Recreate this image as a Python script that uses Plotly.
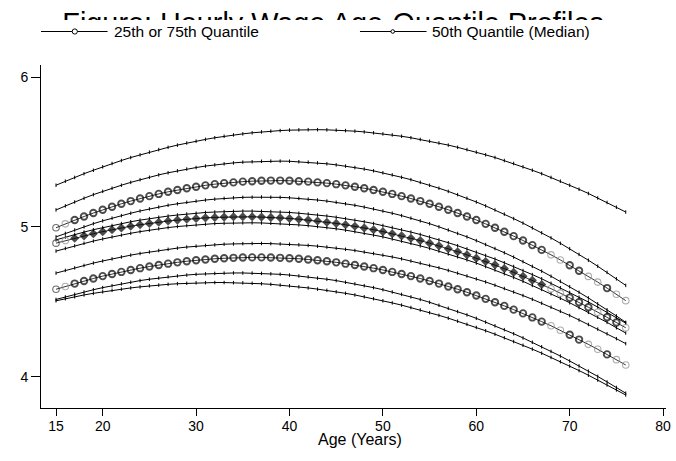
import plotly.graph_objects as go

# Age grid (years)
ages = list(range(15, 77))

# Quantile profiles of log hourly wage
q75 = [4.995, 5.021, 5.047, 5.070, 5.093, 5.115, 5.135, 5.155, 5.173, 5.190, 5.206, 5.221, 5.235, 5.247, 5.259, 5.269,
       5.278, 5.286, 5.293, 5.298, 5.303, 5.306, 5.309, 5.310, 5.310, 5.309, 5.306, 5.303, 5.298, 5.293, 5.286, 5.278,
       5.269, 5.259, 5.247, 5.235, 5.221, 5.206, 5.190, 5.173, 5.155, 5.135, 5.115, 5.093, 5.070, 5.047, 5.021, 4.995,
       4.968, 4.939, 4.910, 4.879, 4.847, 4.814, 4.780, 4.744, 4.708, 4.670, 4.632, 4.592, 4.551, 4.508]
q50 = [4.892, 4.909, 4.925, 4.941, 4.955, 4.969, 4.982, 4.994, 5.005, 5.015, 5.024, 5.032, 5.040, 5.046, 5.052, 5.057,
       5.061, 5.064, 5.066, 5.068, 5.068, 5.068, 5.066, 5.064, 5.061, 5.057, 5.052, 5.046, 5.040, 5.032, 5.024, 5.015,
       5.005, 4.994, 4.982, 4.969, 4.955, 4.941, 4.925, 4.909, 4.892, 4.874, 4.855, 4.835, 4.814, 4.792, 4.770, 4.747,
       4.722, 4.697, 4.671, 4.644, 4.616, 4.588, 4.558, 4.528, 4.497, 4.464, 4.431, 4.397, 4.362, 4.327]
q25 = [4.584, 4.603, 4.622, 4.639, 4.656, 4.672, 4.686, 4.700, 4.713, 4.725, 4.736, 4.746, 4.755, 4.764, 4.771, 4.778,
       4.783, 4.788, 4.791, 4.794, 4.796, 4.797, 4.797, 4.796, 4.794, 4.791, 4.788, 4.783, 4.778, 4.771, 4.764, 4.755,
       4.746, 4.736, 4.725, 4.713, 4.700, 4.686, 4.672, 4.656, 4.639, 4.622, 4.603, 4.584, 4.564, 4.542, 4.520, 4.497,
       4.473, 4.448, 4.423, 4.396, 4.368, 4.340, 4.310, 4.280, 4.248, 4.216, 4.183, 4.149, 4.114, 4.078]

# Comparison profiles drawn as plain connected lines (top to bottom)
profile_1 = [5.279, 5.306, 5.331, 5.356, 5.379, 5.402, 5.424, 5.444, 5.464, 5.482, 5.500, 5.517, 5.532, 5.547, 5.561,
             5.573, 5.585, 5.596, 5.606, 5.615, 5.622, 5.629, 5.635, 5.640, 5.644, 5.647, 5.649, 5.650, 5.650, 5.649,
             5.647, 5.644, 5.640, 5.635, 5.629, 5.622, 5.615, 5.606, 5.596, 5.585, 5.573, 5.561, 5.547, 5.532, 5.517,
             5.500, 5.482, 5.464, 5.444, 5.424, 5.402, 5.379, 5.356, 5.331, 5.306, 5.279, 5.252, 5.224, 5.194, 5.164,
             5.132, 5.100]
profile_2 = [5.114, 5.141, 5.167, 5.192, 5.216, 5.238, 5.259, 5.279, 5.298, 5.316, 5.332, 5.348, 5.362, 5.375, 5.387,
             5.397, 5.407, 5.415, 5.422, 5.428, 5.433, 5.436, 5.439, 5.440, 5.440, 5.439, 5.436, 5.433, 5.428, 5.422,
             5.415, 5.407, 5.397, 5.387, 5.375, 5.362, 5.348, 5.332, 5.316, 5.298, 5.279, 5.259, 5.238, 5.216, 5.192,
             5.167, 5.141, 5.114, 5.086, 5.056, 5.026, 4.994, 4.961, 4.927, 4.891, 4.855, 4.817, 4.778, 4.738, 4.697,
             4.654, 4.610]
profile_3 = [4.934, 4.957, 4.980, 5.001, 5.022, 5.041, 5.059, 5.076, 5.092, 5.107, 5.121, 5.133, 5.145, 5.155, 5.165,
             5.173, 5.180, 5.186, 5.191, 5.195, 5.198, 5.199, 5.200, 5.199, 5.198, 5.195, 5.191, 5.186, 5.180, 5.173,
             5.165, 5.155, 5.145, 5.133, 5.121, 5.107, 5.092, 5.076, 5.059, 5.041, 5.022, 5.001, 4.980, 4.957, 4.934,
             4.909, 4.883, 4.856, 4.828, 4.799, 4.769, 4.737, 4.705, 4.671, 4.637, 4.601, 4.564, 4.526, 4.487, 4.447,
             4.406, 4.363]
profile_4 = [4.914, 4.933, 4.950, 4.966, 4.982, 4.996, 5.010, 5.023, 5.035, 5.046, 5.056, 5.065, 5.073, 5.080, 5.087,
             5.092, 5.097, 5.100, 5.103, 5.105, 5.106, 5.106, 5.105, 5.103, 5.100, 5.097, 5.092, 5.087, 5.080, 5.073,
             5.065, 5.056, 5.046, 5.035, 5.023, 5.010, 4.996, 4.982, 4.966, 4.950, 4.933, 4.914, 4.895, 4.875, 4.854,
             4.832, 4.810, 4.786, 4.761, 4.736, 4.709, 4.682, 4.654, 4.624, 4.594, 4.563, 4.531, 4.499, 4.465, 4.430,
             4.395, 4.358]
profile_5 = [4.839, 4.857, 4.874, 4.891, 4.906, 4.920, 4.934, 4.946, 4.958, 4.969, 4.979, 4.988, 4.996, 5.003, 5.009,
             5.014, 5.019, 5.023, 5.025, 5.027, 5.028, 5.028, 5.027, 5.025, 5.023, 5.019, 5.014, 5.009, 5.003, 4.996,
             4.988, 4.979, 4.969, 4.958, 4.946, 4.934, 4.920, 4.906, 4.891, 4.874, 4.857, 4.839, 4.820, 4.801, 4.780,
             4.759, 4.736, 4.713, 4.688, 4.663, 4.637, 4.610, 4.583, 4.554, 4.524, 4.494, 4.462, 4.430, 4.397, 4.363,
             4.327, 4.292]
profile_6 = [4.692, 4.710, 4.727, 4.743, 4.759, 4.773, 4.787, 4.800, 4.812, 4.823, 4.833, 4.843, 4.851, 4.859, 4.866,
             4.872, 4.877, 4.881, 4.885, 4.887, 4.889, 4.890, 4.890, 4.889, 4.887, 4.885, 4.881, 4.877, 4.872, 4.866,
             4.859, 4.851, 4.843, 4.833, 4.823, 4.812, 4.800, 4.787, 4.773, 4.759, 4.743, 4.727, 4.710, 4.692, 4.673,
             4.653, 4.633, 4.611, 4.589, 4.566, 4.542, 4.517, 4.491, 4.464, 4.437, 4.409, 4.379, 4.349, 4.318, 4.287,
             4.254, 4.221]
profile_7 = [4.516, 4.533, 4.550, 4.566, 4.581, 4.595, 4.608, 4.620, 4.631, 4.642, 4.651, 4.659, 4.667, 4.673, 4.679,
             4.684, 4.687, 4.690, 4.692, 4.693, 4.693, 4.692, 4.690, 4.687, 4.684, 4.679, 4.673, 4.667, 4.659, 4.651,
             4.642, 4.631, 4.620, 4.608, 4.595, 4.581, 4.566, 4.550, 4.533, 4.516, 4.497, 4.477, 4.457, 4.435, 4.413,
             4.390, 4.365, 4.340, 4.314, 4.287, 4.259, 4.230, 4.200, 4.169, 4.138, 4.105, 4.072, 4.037, 4.002, 3.965,
             3.928, 3.890]
profile_8 = [4.507, 4.521, 4.534, 4.546, 4.557, 4.567, 4.577, 4.585, 4.593, 4.600, 4.607, 4.612, 4.617, 4.621, 4.624,
             4.627, 4.628, 4.629, 4.629, 4.628, 4.627, 4.624, 4.621, 4.617, 4.612, 4.607, 4.600, 4.593, 4.585, 4.577,
             4.567, 4.557, 4.546, 4.534, 4.521, 4.507, 4.493, 4.478, 4.462, 4.446, 4.428, 4.410, 4.391, 4.371, 4.350,
             4.329, 4.307, 4.284, 4.260, 4.235, 4.210, 4.184, 4.157, 4.129, 4.100, 4.071, 4.041, 4.010, 3.978, 3.945,
             3.912, 3.878]

x_ticks = [15, 20, 30, 40, 50, 60, 70, 80]
y_ticks = [4, 5, 6]
title_text = "Figure: Hourly Wage Age-Quantile Profiles"
x_title = "Age (Years)"
legend_names = ["25th or 75th Quantile", "50th Quantile (Median)"]

for s in (q75, q50, q25, profile_1, profile_2, profile_3, profile_4, profile_5, profile_6, profile_7, profile_8):
    if len(s) != len(ages):
        raise ValueError("series length mismatch: %d" % len(s))

# ---- page geometry (pixels) ----
W, H = 676, 461
ML, MR, MT, MB = 41, 6, 5, 53
PW, PH = W - ML - MR, H - MT - MB


def fx(px):
    """page column -> paper x"""
    return (px - ML) / PW


def fy(py):
    """page row -> paper y"""
    return (H - MB - py) / PH


FONT = "Liberation Sans, Arial, Helvetica, sans-serif"
BLACK = "#000000"
GRAY = "#8c8c8c"

fig = go.Figure()

# plain profiles with tiny tick markers at each age
for prof in (profile_1, profile_2, profile_3, profile_4, profile_5, profile_6, profile_7, profile_8):
    fig.add_trace(go.Scatter(
        x=ages, y=prof, mode="lines+markers", showlegend=False, hoverinfo="skip",
        line=dict(color=BLACK, width=1),
        marker=dict(symbol="line-ns", size=2.5, line=dict(color=BLACK, width=1)),
    ))

# marker shading: k = bold black, g = light gray, t = thin black, d = filled diamond
shade_outer = "tg" + "k" * 51 + "ggkkggkgg"
shade_mid = "tg" + "d" * 51 + "ggkkkgkkg"


def marker_style(shades, circle_size, diamond_size):
    symbols, colors, widths, sizes = [], [], [], []
    for c in shades:
        if c == "d":
            symbols.append("diamond"); colors.append(BLACK); widths.append(0); sizes.append(diamond_size)
        elif c == "k":
            symbols.append("circle-open"); colors.append(BLACK); widths.append(1.9); sizes.append(circle_size)
        elif c == "g":
            symbols.append("circle-open"); colors.append(GRAY); widths.append(1.1); sizes.append(circle_size)
        else:
            symbols.append("circle-open"); colors.append("#303030"); widths.append(1.1); sizes.append(circle_size)
    return dict(symbol=symbols, color=colors, size=sizes, line=dict(color=colors, width=widths))


for q, shades in ((q75, shade_outer), (q50, shade_mid), (q25, shade_outer)):
    fig.add_trace(go.Scatter(
        x=ages, y=q, mode="lines+markers", showlegend=False, hoverinfo="skip",
        line=dict(color=BLACK, width=0.8),
        marker=marker_style(shades, 6.5, 7),
    ))

# heading: drawn in its own strip (rows MT..title_cut) with clipping, so only the
# upper part of the capitals shows above the legend band
title_size = 28.8
title_cap_top, title_cut = 15, 20
title_row = title_cap_top + (0.716 - 0.35) * title_size   # row of the text's "middle" anchor
title_val = (title_cut - title_row) / (title_cut - MT)       # that row in strip units (strip = 0..1)
fig.add_trace(go.Scatter(
    x=[fx(335)], y=[title_val], mode="text", text=[title_text], xaxis="x2", yaxis="y2",
    textposition="middle center", cliponaxis=True, showlegend=False, hoverinfo="skip",
    textfont=dict(family=FONT, size=title_size, color=BLACK),
))

# legend keys drawn in page space
legend_row = 31.5
legend_keys = [
    dict(x0=41, x1=108, mark=75, r=2.6, text_x=113),
    dict(x0=362, x1=429, mark=395, r=1.8, text_x=433),
]
shapes, annotations = [], []
for key, name in zip(legend_keys, legend_names):
    shapes.append(dict(type="line", xref="paper", yref="paper",
                       x0=fx(key["x0"]), x1=fx(key["x1"]), y0=fy(legend_row), y1=fy(legend_row),
                       line=dict(color=BLACK, width=1)))
    shapes.append(dict(type="circle", xref="paper", yref="paper",
                       x0=fx(key["mark"] - key["r"]), x1=fx(key["mark"] + key["r"]),
                       y0=fy(legend_row + key["r"]), y1=fy(legend_row - key["r"]),
                       fillcolor="white", line=dict(color=BLACK, width=1)))
    annotations.append(dict(text=name, x=fx(key["text_x"]), y=fy(legend_row - 0.5), xref="paper", yref="paper",
                            xanchor="left", yanchor="middle", showarrow=False, borderpad=0,
                            font=dict(family=FONT, size=15.5, color=BLACK)))

annotations.append(dict(
    text=x_title, x=fx(362.5), y=fy(439), xref="paper", yref="paper",
    xanchor="center", yanchor="middle", showarrow=False, borderpad=0,
    font=dict(family=FONT, size=16, color=BLACK),
))

fig.update_layout(
    width=W, height=H,
    margin=dict(l=ML, r=MR, t=MT, b=MB, pad=0),
    paper_bgcolor="white", plot_bgcolor="white",
    font=dict(family=FONT, size=14, color=BLACK),
    showlegend=False,
    xaxis=dict(
        domain=[0, 1], range=[13.394, 80.31], tickmode="array", tickvals=x_ticks,
        showgrid=False, zeroline=False, showline=True, linecolor=BLACK, linewidth=1,
        ticks="outside", ticklen=7, tickwidth=1, tickcolor=BLACK, ticklabelstandoff=-2,
        tickfont=dict(family=FONT, size=14, color=BLACK), anchor="y",
    ),
    yaxis=dict(
        domain=[0, fy(65)], range=[3.791, 6.082], tickmode="array", tickvals=y_ticks,
        showgrid=False, zeroline=False, showline=True, linecolor=BLACK, linewidth=1,
        ticks="outside", ticklen=9, tickwidth=1, tickcolor=BLACK,
        tickfont=dict(family=FONT, size=14, color=BLACK), anchor="x",
    ),
    xaxis2=dict(domain=[0, 1], range=[0, 1], visible=False, anchor="y2"),
    yaxis2=dict(domain=[fy(title_cut), 1.0], range=[0, 1], visible=False, anchor="x2"),
    shapes=shapes,
    annotations=annotations,
)

fig.write_html("out.html")
